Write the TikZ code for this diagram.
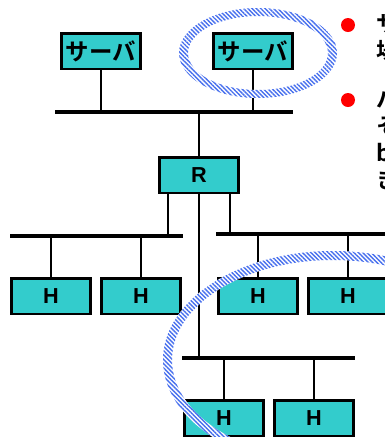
\documentclass[tikz,border=0pt]{standalone}
\usepackage{fontspec}
\setmainfont{Liberation Sans}
\newfontfamily\jpfont{Noto Sans CJK JP}[BoldFont=* Bold]
\usetikzlibrary{patterns.meta}

\definecolor{boxteal}{RGB}{51,204,204}
\definecolor{ringblue}{RGB}{72,112,238}
\definecolor{dotred}{RGB}{255,0,0}

\tikzset{
  netbox/.style={draw=black, line width=2pt, fill=boxteal, minimum width=2.38cm,
    minimum height=1.06cm, inner sep=0pt, font=\bfseries\fontsize{18.5}{18.5}\selectfont},
  srvbox/.style={netbox, font=\jpfont\bfseries\fontsize{20}{20}\selectfont},
  bus/.style={line width=3pt},
  drop/.style={line width=2pt},
  ring/.style={even odd rule, fill=white,
    postaction={even odd rule, pattern={Lines[angle=-45,distance=2.6pt,line width=1.2pt]},
      pattern color=ringblue}},
  bullet/.style={circle, fill=dotred, minimum size=0.42cm, inner sep=0pt},
  note/.style={anchor=north west, align=left, inner sep=0pt,
    font=\jpfont\bfseries\fontsize{19.5}{23}\selectfont},
}

\begin{document}
\begin{tikzpicture}[x=0.03cm, y=-0.03cm]
  \useasboundingbox (0,0) rectangle (385,437);
  \clip (0,0) rectangle (385,437);

  % --- servers and backbone ---
  \node[srvbox] (srvA) at (101,51) {サーバ};
  \node[srvbox] (srvB) at (253,51) {サーバ};
  \coordinate (busTw) at (55,112);
  \coordinate (busTe) at (293,112);
  \draw[bus] (busTw) -- (busTe);
  \draw[drop] (srvA) -- (srvA |- busTw);
  \draw[drop] (srvB) -- (srvB |- busTw);

  % --- router ---
  \node[netbox] (rtr) at (199,175) {R};
  \draw[drop] (rtr) -- (rtr |- busTw);

  % --- left segment ---
  \coordinate (busLw) at (10,236);
  \coordinate (busLe) at (183,236);
  \coordinate (tapL) at (168,236);
  \draw[bus] (busLw) -- (busLe);
  \draw[drop] (rtr.south -| tapL) -- (tapL);
  \node[netbox] (hA) at (51,296) {H};
  \node[netbox] (hB) at (141,296) {H};
  \draw[drop] (hA) -- (hA |- busLw);
  \draw[drop] (hB) -- (hB |- busLw);

  % --- right segment ---
  \coordinate (busRw) at (216,234);
  \coordinate (busRe) at (392,234);
  \coordinate (tapR) at (230,234);
  \draw[bus] (busRw) -- (busRe);
  \draw[drop] (rtr.south -| tapR) -- (tapR);
  \node[netbox] (hC) at (258,296) {H};
  \node[netbox] (hD) at (348,296) {H};
  \draw[drop] (hC) -- (hC |- busRw);
  \draw[drop] (hD) -- (hD |- busRw);

  % --- bottom segment ---
  \coordinate (busBw) at (182,358);
  \coordinate (busBe) at (355,358);
  \draw[bus] (busBw) -- (busBe);
  \draw[drop] (rtr) -- (rtr |- busBw);
  \node[netbox] (hE) at (224,418) {H};
  \node[netbox] (hF) at (314,418) {H};
  \draw[drop] (hE) -- (hE |- busBw);
  \draw[drop] (hF) -- (hF |- busBw);

  % --- hatched rings ---
  \path[ring] (258,53) ellipse [x radius=79, y radius=45]
              (258,53) ellipse [x radius=70, y radius=37];
  \path[ring] (333,360) ellipse [x radius=170, y radius=109]
              (333,360) ellipse [x radius=161, y radius=100];

  % --- notes (cut off at the edge) ---
  \node[bullet] (dot1) at (348,25) {};
  \node[bullet] (dot2) at (348,100) {};
  \node[note] (note1) at (376,13) {サーバを\\場所に};
  \node[note] (note2) at (376,88) {パケット\\そのまま\\bps\\きる};
\end{tikzpicture}
\end{document}
